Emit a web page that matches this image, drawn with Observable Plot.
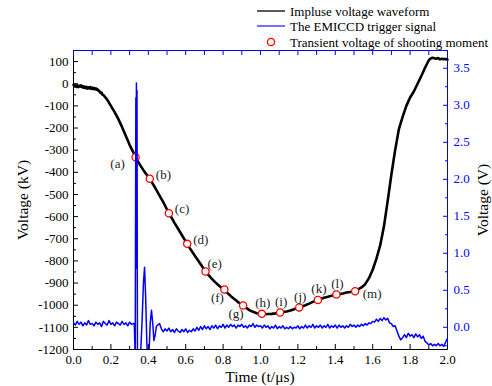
<!DOCTYPE html>
<html><head><meta charset="utf-8">
<script src="https://cdn.jsdelivr.net/npm/d3@7"></script>
<script src="https://cdn.jsdelivr.net/npm/@observablehq/plot@0.6"></script>
<style>
body{margin:0;background:#fff;}
#wrap{position:relative;width:492px;height:386px;}
#wrap svg, #wrap svg text{font-family:"Liberation Serif","Times New Roman",serif !important;}
#overlay{position:absolute;left:0;top:0;pointer-events:none;}
</style>
</head><body><div id="wrap"></div>
<script>
// ---- data ----
const waveform = [
[0,-5],[0.005,-12],[0.01,-6],[0.015,-14],[0.02,-8],[0.025,-15],[0.03,-9],[0.035,-13],[0.04,-7],[0.045,-16],
[0.05,-11],[0.055,-19],[0.06,-13],[0.065,-20],[0.07,-14],[0.075,-22],[0.08,-16],[0.085,-21],[0.09,-15],[0.095,-23],
[0.1,-18],[0.105,-24],[0.11,-19],[0.115,-25],[0.12,-21],[0.125,-27],[0.13,-26],[0.135,-33],[0.14,-34],[0.145,-42],
[0.15,-40],[0.155,-50],[0.16,-51],[0.18,-72],[0.2,-100],[0.22,-128],[0.24,-160],[0.26,-196],[0.28,-236],[0.3,-276],
[0.32,-310],[0.34,-345],[0.36,-372],[0.38,-398],[0.4,-420],[0.42,-446],[0.44,-475],[0.46,-505],[0.48,-535],[0.5,-568],
[0.52,-598],[0.54,-628],[0.56,-656],[0.58,-684],[0.6,-712],[0.62,-740],[0.64,-765],[0.66,-790],[0.68,-815],[0.7,-840],
[0.72,-862],[0.74,-881],[0.76,-898],[0.78,-913],[0.8,-927],[0.82,-942],[0.84,-958],[0.86,-972],[0.88,-986],[0.9,-998],
[0.92,-1010],[0.94,-1022],[0.96,-1030],[0.98,-1036],[1.0,-1040],[1.02,-1041],[1.04,-1040],[1.06,-1039],[1.08,-1037],[1.1,-1034],
[1.12,-1031],[1.14,-1028],[1.16,-1024],[1.18,-1018],[1.2,-1012],[1.22,-1006],[1.24,-1000],[1.26,-993],[1.28,-985],[1.3,-978],
[1.32,-972],[1.34,-966],[1.36,-962],[1.38,-957],[1.4,-953],[1.42,-950],[1.44,-947],[1.46,-943],[1.48,-940],[1.5,-937],
[1.52,-930],[1.54,-920],[1.56,-905],[1.58,-878],[1.6,-840],[1.62,-790],[1.64,-730],[1.66,-645],[1.68,-530],[1.7,-410],
[1.72,-300],[1.74,-205],[1.76,-150],[1.78,-100],[1.8,-62],[1.82,-35],[1.84,0],[1.86,35],[1.88,72],[1.9,106],
[1.91,114],[1.92,117],[1.93,115],[1.94,113],[1.95,116],[1.96,110],[1.97,113],[1.98,111],[1.99,112],[2.0,109]
];
const trigger = [
[0,0.06],[0.01,0.03],[0.02,0.08],[0.03,0.04],[0.04,0.07],[0.05,0.02],[0.06,0.06],[0.07,0.03],[0.08,0.09],[0.09,0.04],
[0.1,0.05],[0.11,0.02],[0.12,0.07],[0.13,0.04],[0.14,0.06],[0.15,0.01],[0.16,0.08],[0.17,0.05],[0.18,0.03],[0.19,0.09],
[0.2,0.04],[0.21,0.06],[0.22,0.02],[0.23,0.07],[0.24,0.05],[0.25,0.03],[0.26,0.08],[0.27,0.04],[0.28,0.06],[0.29,0.02],
[0.3,0.07],[0.31,0.04],[0.32,0.05],[0.325,0.05],[0.33,-0.4],[0.3335,3.1],[0.335,0.8],[0.3365,3.3],[0.338,1.2],[0.3395,3.2],
[0.342,-0.4],[0.35,-0.4],[0.358,-0.4],[0.367,0.1],[0.374,0.6],[0.38,0.81],[0.386,0.4],[0.392,-0.2],[0.396,-0.4],[0.404,-0.35],
[0.41,0.05],[0.417,0.23],[0.424,0.05],[0.43,-0.18],[0.437,-0.1],[0.443,0.01],[0.45,0.03],[0.46,0.05],[0.47,-0.02],[0.48,-0.06],
[0.49,-0.02],[0.5,-0.05],[0.51,-0.01],[0.52,-0.06],[0.53,-0.03],[0.54,-0.07],[0.55,-0.02],[0.56,-0.05],[0.57,-0.07],[0.58,-0.03],
[0.59,-0.06],[0.6,-0.02],[0.61,-0.07],[0.62,-0.04],[0.63,-0.06],[0.64,-0.02],[0.65,-0.05],[0.66,0.0],[0.67,-0.04],[0.68,0.01],
[0.69,-0.03],[0.7,0.02],[0.71,-0.02],[0.72,0.01],[0.73,-0.03],[0.74,0.02],[0.75,-0.01],[0.76,0.03],[0.77,-0.02],[0.78,0.02],
[0.79,0.0],[0.8,0.04],[0.81,-0.01],[0.82,0.03],[0.83,0.0],[0.84,0.04],[0.85,0.01],[0.86,0.03],[0.87,-0.01],[0.88,0.03],
[0.89,0.01],[0.9,0.04],[0.91,0.0],[0.92,0.02],[0.93,-0.01],[0.94,0.03],[0.95,0.01],[0.96,0.05],[0.97,0.0],[0.98,0.03],
[0.99,0.01],[1.0,0.02],[1.01,-0.01],[1.02,0.03],[1.03,0.0],[1.04,0.02],[1.05,-0.02],[1.06,0.01],[1.07,-0.01],[1.08,0.03],
[1.09,-0.02],[1.1,0.01],[1.11,-0.01],[1.12,0.02],[1.13,-0.02],[1.14,0.0],[1.15,-0.02],[1.16,0.01],[1.17,-0.02],[1.18,0.0],
[1.19,-0.01],[1.2,0.02],[1.21,-0.02],[1.22,0.01],[1.23,-0.01],[1.24,0.03],[1.25,-0.01],[1.26,0.02],[1.27,0.0],[1.28,0.04],
[1.29,-0.01],[1.3,0.02],[1.31,0.0],[1.32,0.03],[1.33,-0.01],[1.34,0.02],[1.35,0.0],[1.36,0.04],[1.37,-0.01],[1.38,0.02],
[1.39,0.0],[1.4,0.03],[1.41,-0.01],[1.42,0.03],[1.43,0.0],[1.44,0.02],[1.45,-0.01],[1.46,0.02],[1.47,0.0],[1.48,0.04],
[1.49,0.01],[1.5,0.03],[1.51,0.0],[1.52,0.03],[1.53,0.01],[1.54,0.04],[1.55,0.02],[1.56,0.05],[1.57,0.03],[1.58,0.06],
[1.59,0.05],[1.6,0.08],[1.61,0.07],[1.62,0.11],[1.63,0.08],[1.64,0.12],[1.65,0.09],[1.66,0.13],[1.67,0.1],[1.68,0.12],
[1.69,0.06],[1.7,0.05],[1.71,0.01],[1.72,0.02],[1.73,-0.05],[1.74,-0.12],[1.75,-0.17],[1.76,-0.14],[1.77,-0.1],[1.78,-0.14],
[1.79,-0.08],[1.8,-0.12],[1.81,-0.1],[1.82,-0.14],[1.83,-0.09],[1.84,-0.13],[1.85,-0.1],[1.86,-0.15],[1.87,-0.12],[1.88,-0.19],
[1.89,-0.21],[1.9,-0.24],[1.91,-0.22],[1.92,-0.25],[1.93,-0.23],[1.94,-0.25],[1.95,-0.22],[1.96,-0.25],[1.97,-0.23],[1.98,-0.26],
[1.99,-0.2],[2.0,-0.15]
];
const shotTime = [0.332,0.408,0.51,0.608,0.706,0.807,0.907,1.007,1.105,1.207,1.307,1.406,1.506];
const shotKV   = [-332,-429,-585,-723,-848,-929,-1001,-1039,-1033,-1010,-976,-952,-937];
const shotLabels = ["(a)","(b)","(c)","(d)","(e)","(f)","(g)","(h)","(i)","(j)","(k)","(l)","(m)"];
const shotPlace  = ["left","right","right","right","upright","below","below","above","above","above","above","above","far"];

const xMajor = [0,0.2,0.4,0.6,0.8,1.0,1.2,1.4,1.6,1.8,2.0];
const xMinor = [0.1,0.3,0.5,0.7,0.9,1.1,1.3,1.5,1.7,1.9];
const kvMajor = [-1200,-1100,-1000,-900,-800,-700,-600,-500,-400,-300,-200,-100,0,100];
const kvMinor = [-1150,-1050,-950,-850,-750,-650,-550,-450,-350,-250,-150,-50,50];
const vMajor = [0,0.5,1.0,1.5,2.0,2.5,3.0,3.5];
const vMinor = [-0.25,0.25,0.75,1.25,1.75,2.25,2.75,3.25];
const legendLabels = ["Impluse voltage waveform","The EMICCD trigger signal","Transient voltage of shooting moment"];

// ---- scales ----
const xDomain = [0, 2.0], kvDomain = [-1200, 150], vDomain = [-0.3, 3.74];
const vToKV = d3.scaleLinear(vDomain, kvDomain);
const BLUE = "#0000ff";
const SERIF = "Liberation Serif";
const fmt1 = d3.format(".1f");
const place = {
  left:   {dx:-18, dy:7, textAnchor:"middle"},
  right:  {dx:6,  dy:-4, textAnchor:"start"},
  upright:{dx:2,  dy:-8, textAnchor:"start"},
  below:  {dx:-7, dy:8, textAnchor:"middle"},
  above:  {dx:1,  dy:-11, textAnchor:"middle"},
  far:    {dx:17, dy:3, textAnchor:"middle"}
};
const shots = shotTime.map((t,i) => ({t, kv: shotKV[i], label: shotLabels[i], place: shotPlace[i]}));
const axText = {fontSize: 13, fontFamily: SERIF};

const chart = Plot.plot({
  width: 492, height: 386,
  marginLeft: 73, marginRight: 45, marginTop: 50, marginBottom: 37,
  style: {fontFamily: SERIF, fontSize: "13px", background: "white", color: "black"},
  x: {domain: xDomain},
  y: {domain: kvDomain},
  marks: [
    Plot.frame({stroke: BLUE}),
    Plot.ruleX([xDomain[0]], {stroke: "black"}),
    Plot.ruleY([kvDomain[0]], {stroke: "black"}),
    Plot.line(waveform, {x: d => d[0], y: d => d[1], stroke: "black", strokeWidth: 2.6}),
    Plot.dot(shots, {x: "t", y: "kv", r: 3.6, stroke: "#ff0000", fill: "white", strokeWidth: 1.3}),
    Plot.line(trigger, {x: d => d[0], y: d => vToKV(d[1]), stroke: BLUE, strokeWidth: 1.5, clip: true}),
    ...Object.entries(place).map(([k, o]) => Plot.text(shots.filter(s => s.place === k), {x: "t", y: "kv", text: "label", fill: "#222", ...axText, ...o})),
    Plot.axisX(xMajor, {anchor: "bottom", tickSize: -5, tickPadding: 10, tickFormat: fmt1, label: null, ...axText}),
    Plot.axisX(xMinor, {anchor: "bottom", tickSize: -3, tickFormat: () => "", label: null}),
    Plot.axisX(xMajor.concat(xMinor), {anchor: "top", tickSize: -4, tickFormat: () => "", label: null, color: BLUE}),
    Plot.axisY(kvMajor, {anchor: "left", tickSize: -5, tickPadding: 10, tickFormat: d => String(d), label: null, ...axText}),
    Plot.axisY(kvMinor, {anchor: "left", tickSize: -3, tickFormat: () => "", label: null}),
    Plot.axisY(vMajor.map(vToKV), {anchor: "right", tickSize: -5, tickPadding: 11, tickFormat: d => fmt1(vToKV.invert(d)), label: null, color: BLUE, ...axText}),
    Plot.axisY(vMinor.map(vToKV), {anchor: "right", tickSize: -3, tickFormat: () => "", label: null, color: BLUE})
  ]
});
const wrap = document.getElementById("wrap");
wrap.appendChild(chart);

// ---- titles and legend overlay ----
const ov = d3.select(wrap).append("svg").attr("id","overlay").attr("width",492).attr("height",386)
  .style("font-family","'Liberation Serif','Times New Roman',serif");
ov.append("text").attr("transform","translate(22,200) rotate(-90)").attr("text-anchor","middle")
  .attr("dominant-baseline","central").attr("font-size",15.5).text("Voltage (kV)");
ov.append("text").attr("transform","translate(482,200) rotate(-90)").attr("text-anchor","middle")
  .attr("dominant-baseline","central").attr("font-size",15.5).text("Voltage (V)");
ov.append("text").attr("x",260).attr("y",376).attr("text-anchor","middle")
  .attr("dominant-baseline","central").attr("font-size",15.5).text("Time (t/μs)");
const legendY = [11, 26, 42];
const lg = ov.append("g");
lg.append("line").attr("x1",257).attr("x2",285).attr("y1",legendY[0]).attr("y2",legendY[0]).attr("stroke","black").attr("stroke-width",1.3);
lg.append("line").attr("x1",257).attr("x2",285).attr("y1",legendY[1]).attr("y2",legendY[1]).attr("stroke",BLUE).attr("stroke-width",1.1);
lg.append("circle").attr("cx",271).attr("cy",legendY[2]).attr("r",3.6).attr("fill","white").attr("stroke","#ff0000").attr("stroke-width",1.3);
legendLabels.forEach((s,i) => lg.append("text").attr("x",290).attr("y",legendY[i]).attr("dominant-baseline","central").attr("font-size",13).text(s));
</script>
</body></html>
